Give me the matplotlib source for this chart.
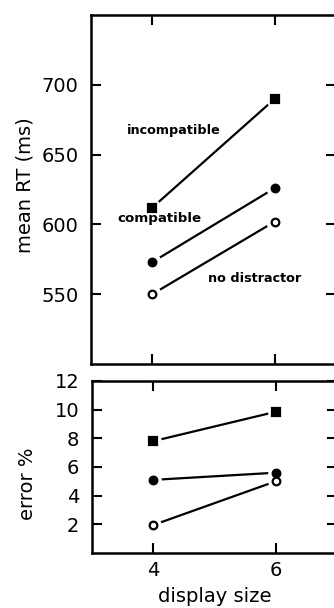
import matplotlib.pyplot as plt

plt.rcParams['font.family'] = ['DejaVu Sans']

display_size = [4, 6]
rt_incompatible = [612, 690]
rt_compatible = [573, 626]
rt_no_distractor = [550, 602]
err_incompatible = [7.8, 9.85]
err_compatible = [5.1, 5.6]
err_no_distractor = [1.95, 5.0]

fig = plt.figure(figsize=(3.34, 6.08), dpi=100)
ax1 = fig.add_axes([0.2725, 0.4013, 0.7335, 0.574])
ax2 = fig.add_axes([0.2754, 0.0905, 0.7335, 0.2829])

styles = [("s", "black"), ("o", "black"), ("o", "white")]


def draw(ax, series, halo):
    for (m, fc), y in zip(styles, series):
        ax.plot(display_size, y, color="black", lw=1.6, zorder=2)
        ax.plot(display_size, y, ls="none", marker="o", ms=halo, mfc="white",
                mec="white", zorder=3)
        ax.plot(display_size, y, ls="none", marker=m, ms=6 if m == "s" else 5.5,
                mfc=fc, mec="black", mew=1.6, zorder=4)


draw(ax1, [rt_incompatible, rt_compatible, rt_no_distractor], 12)
draw(ax2, [err_incompatible, err_compatible, err_no_distractor], 11)

for ax in (ax1, ax2):
    ax.set_xlim(3, 7)
    ax.set_xticks(display_size)
    ax.tick_params(direction="in", top=True, right=True, length=7, width=1.5,
                   labelsize=14, pad=9)
    for s in ax.spines.values():
        s.set_linewidth(1.8)

ax1.set_ylim(500, 750)
ax1.set_yticks([550, 600, 650, 700])
ax1.tick_params(labelbottom=False)
ax1.set_ylabel("mean RT (ms)", fontsize=14)
ax1.yaxis.set_label_coords(-0.23, 0.513)

ax2.set_ylim(0, 12)
ax2.set_yticks([2, 4, 6, 8, 10, 12])
ax2.tick_params(axis="x", pad=6)
ax2.set_ylabel("error %", fontsize=14)
ax2.yaxis.set_label_coords(-0.225, 0.40)
ax2.set_xlabel("display size", fontsize=14, labelpad=5)

ax1.text(4.35, 667, "incompatible", fontsize=9.2, fontweight="bold", ha="center", va="center")
ax1.text(4.12, 604, "compatible", fontsize=9.6, fontweight="bold", ha="center", va="center")
ax1.text(5.67, 561, "no distractor", fontsize=9.2, fontweight="bold", ha="center", va="center")

fig.savefig("out.png", dpi=100)
